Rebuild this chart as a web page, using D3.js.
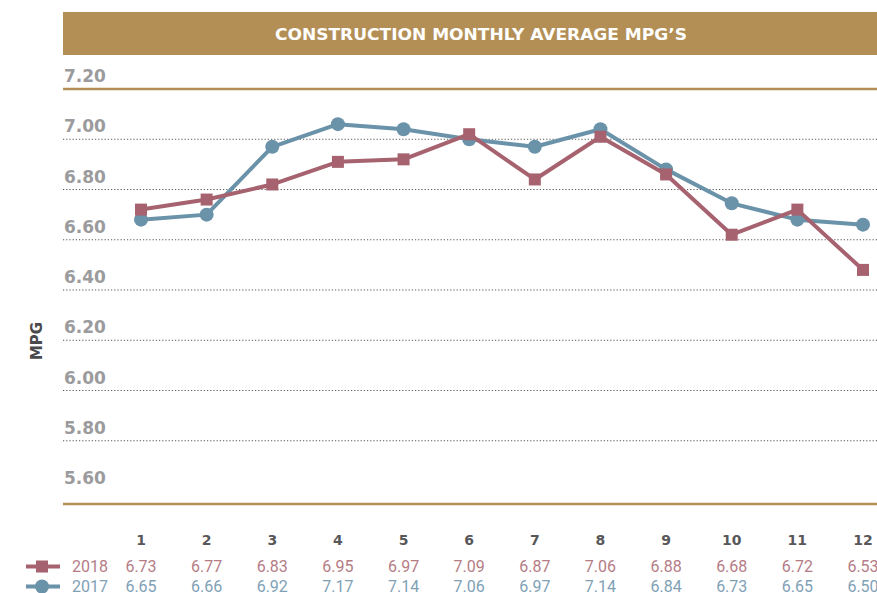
<!DOCTYPE html>
<html>
<head>
<meta charset="utf-8">
<script src="https://cdn.jsdelivr.net/npm/d3@7"></script>
<style>
  html, body { margin: 0; padding: 0; background: #fff; }
  svg { display: block; }
</style>
</head>
<body>
<div id="chart"></div>
<script>
// months on the x axis
const months = [1, 2, 3, 4, 5, 6, 7, 8, 9, 10, 11, 12];
const plotted2018 = [6.72, 6.76, 6.82, 6.91, 6.92, 7.02, 6.84, 7.01, 6.86, 6.62, 6.72, 6.48];
const plotted2017 = [6.68, 6.70, 6.97, 7.06, 7.04, 7.00, 6.97, 7.04, 6.88, 6.745, 6.68, 6.66];
// values printed in the data table under the chart
const table2018 = ['6.73', '6.77', '6.83', '6.95', '6.97', '7.09', '6.87', '7.06', '6.88', '6.68', '6.72', '6.53'];
const table2017 = ['6.65', '6.66', '6.92', '7.17', '7.14', '7.06', '6.97', '7.14', '6.84', '6.73', '6.65', '6.50'];
const yTicks = [7.2, 7.0, 6.8, 6.6, 6.4, 6.2, 6.0, 5.8, 5.6];

const GOLD = '#b38f56';
const RED = '#a6636f';
const BLUE = '#6a92a9';
const RED_TXT = '#b57c86';
const BLUE_TXT = '#7fa1b6';

const width = 877;
const height = 593;
const left = 63;

const svg = d3.select('#chart').append('svg').attr('width', width).attr('height', height);

const x = d3.scalePoint().domain(months).range([141, 863]);
const y = d3.scaleLinear().domain([5.6, 7.2]).range([491, 89]);

// title bar
svg.append('rect').attr('x', left).attr('y', 12).attr('width', 900 - left).attr('height', 43).attr('fill', GOLD);
svg.append('text').attr('x', 481).attr('y', 40).attr('text-anchor', 'middle')
  .attr('font-family', 'DejaVu Sans').attr('font-weight', 700).attr('font-size', 16)
  .attr('fill', '#fff').attr('textLength', 412).attr('lengthAdjust', 'spacingAndGlyphs')
  .text('CONSTRUCTION MONTHLY AVERAGE MPG\u2019S');

// gridlines
yTicks.forEach((v) => {
  if (v === 7.2) {
    svg.append('line').attr('x1', left).attr('x2', width).attr('y1', y(v)).attr('y2', y(v))
      .attr('stroke', GOLD).attr('stroke-width', 2.5);
  } else if (v > 5.6) {
    svg.append('line').attr('x1', left).attr('x2', width).attr('y1', y(v)).attr('y2', y(v))
      .attr('stroke', '#555').attr('stroke-width', 1).attr('stroke-dasharray', '1.2,2');
  }
  svg.append('text').attr('x', left + 1).attr('y', y(v) - 7)
    .attr('font-family', 'DejaVu Sans').attr('font-weight', 700).attr('font-size', 17)
    .attr('fill', '#9b9b9d').text(v.toFixed(2));
});
// baseline just under the lowest tick
svg.append('line').attr('x1', left).attr('x2', width).attr('y1', y(5.6) + 13).attr('y2', y(5.6) + 13)
  .attr('stroke', GOLD).attr('stroke-width', 2.5);

// axis title
svg.append('text').attr('transform', `translate(42,341) rotate(-90)`).attr('text-anchor', 'middle')
  .attr('font-family', 'DejaVu Sans').attr('font-weight', 700).attr('font-size', 15)
  .attr('fill', '#4a4a4c').text('MPG');

// lines
const line = d3.line().x((d, i) => x(months[i])).y((d) => y(d));

svg.append('path').datum(plotted2017).attr('d', line).attr('fill', 'none')
  .attr('stroke', BLUE).attr('stroke-width', 4).attr('stroke-linejoin', 'round');
svg.selectAll('.dot17').data(plotted2017).join('circle').attr('class', 'dot17')
  .attr('cx', (d, i) => x(months[i])).attr('cy', (d) => y(d)).attr('r', 7).attr('fill', BLUE);

svg.append('path').datum(plotted2018).attr('d', line).attr('fill', 'none')
  .attr('stroke', RED).attr('stroke-width', 4).attr('stroke-linejoin', 'round');
svg.selectAll('.sq18').data(plotted2018).join('rect').attr('class', 'sq18')
  .attr('x', (d, i) => x(months[i]) - 6).attr('y', (d) => y(d) - 6)
  .attr('width', 12).attr('height', 12).attr('fill', RED);

// month labels
svg.selectAll('.mlab').data(months).join('text').attr('class', 'mlab')
  .attr('x', (d) => x(d)).attr('y', 545).attr('text-anchor', 'middle')
  .attr('font-family', 'DejaVu Sans').attr('font-weight', 700).attr('font-size', 14)
  .attr('fill', '#58585a').text((d) => d);

// data table
const rows = [
  { label: '2018', vals: table2018, color: RED, txt: RED_TXT, y: 572, marker: 'square' },
  { label: '2017', vals: table2017, color: BLUE, txt: BLUE_TXT, y: 592, marker: 'circle' },
];
rows.forEach((r) => {
  const cy = r.y - 5.5;
  svg.append('line').attr('x1', 26).attr('x2', 60).attr('y1', cy).attr('y2', cy)
    .attr('stroke', r.color).attr('stroke-width', 4);
  if (r.marker === 'square') {
    svg.append('rect').attr('x', 36).attr('y', cy - 6).attr('width', 12).attr('height', 12).attr('fill', r.color);
  } else {
    svg.append('circle').attr('cx', 42).attr('cy', cy).attr('r', 7).attr('fill', r.color);
  }
  svg.append('text').attr('x', 72).attr('y', r.y)
    .attr('font-family', 'Roboto').attr('font-size', 16).attr('fill', r.txt).text(r.label);
  svg.selectAll(null).data(r.vals).join('text')
    .attr('x', (d, i) => x(months[i])).attr('y', r.y).attr('text-anchor', 'middle')
    .attr('font-family', 'Roboto').attr('font-size', 16).attr('fill', r.txt).text((d) => d);
});
</script>
</body>
</html>
